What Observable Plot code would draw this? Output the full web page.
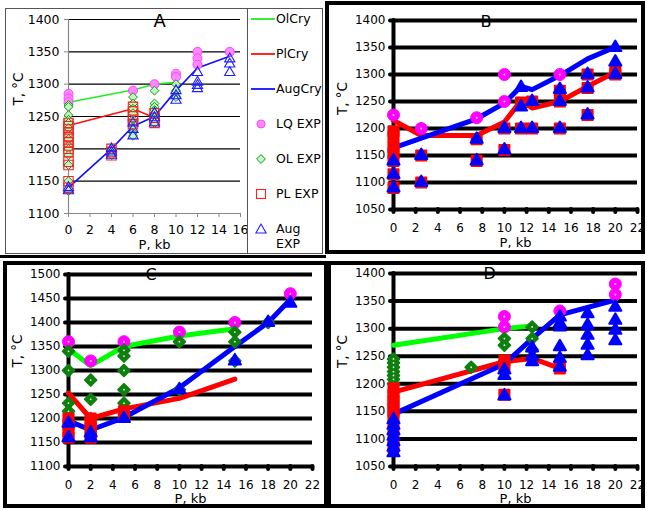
<!DOCTYPE html>
<html><head><meta charset="utf-8">
<script src="https://cdn.jsdelivr.net/npm/d3@7"></script>
<script src="https://cdn.jsdelivr.net/npm/@observablehq/plot@0.6"></script>
<style>
body{margin:0;background:#fff;}
#root{position:relative;width:647px;height:510px;overflow:hidden;font-family:"DejaVu Sans",sans-serif;background:#fff;}
.panel{position:absolute;}
.panel svg{display:block;}
#overlay{position:absolute;left:0;top:0;pointer-events:none;}
</style></head><body><div id="root"></div>
<script>
// ---------- tick labels ----------
const aXTicks = [0,2,4,6,8,10,12,14,16];
const aYTicks = [1100,1150,1200,1250,1300,1350,1400];
const bcdXTicks = [0,2,4,6,8,10,12,14,16,18,20,22];
const bYTicks = [1050,1100,1150,1200,1250,1300,1350,1400];
const cYTicks = [1100,1150,1200,1250,1300,1350,1400,1450,1500];
const dYTicks = [1050,1100,1150,1200,1250,1300,1350,1400];
const legendLabels = ["OlCry","PlCry","AugCry","LQ EXP","OL EXP","PL EXP","Aug EXP"];
const panelTitles = ["A","B","C","D"];

// ---------- panel A ----------
const aOlCryP = [0,6,8,10];
const aOlCryT = [1272,1291,1300,1303];
const aPlCryP = [0,6,8];
const aPlCryT = [1236,1262,1248];
const aAugCryP = [0,4,6,8,10,12,15];
const aAugCryT = [1140,1200,1235,1250,1290,1325,1343];
const aLqP = [0,0,0,6,8,10,10,12,12,12,15];
const aLqT = [1285,1278,1272,1290,1300,1316,1311,1350,1340,1330,1350];
const aOlP = [0,0,0,0,0,0,0,0,0,0,0,0,0,0, 4,4,4, 6,6,6,6,6,6,6,6, 8,8,8,8,8,8,8,8, 10,10,10];
const aOlT = [1268,1265,1252,1245,1240,1232,1222,1215,1205,1200,1190,1175,1150,1135, 1200,1195,1190, 1280,1270,1262,1255,1245,1235,1225,1220, 1290,1270,1265,1260,1255,1250,1245,1240, 1300,1290,1280];
const aPlP = [0,0,0,0,0,0,0,0,0,0,0,0,0, 4,4,4, 6,6,6,6,6, 8,8,8];
const aPlT = [1240,1235,1230,1225,1218,1210,1205,1200,1195,1180,1175,1150,1140, 1200,1195,1190, 1265,1258,1250,1245,1238, 1255,1248,1240];
const aAugP = [0,0, 4,4,4, 6,6,6, 8,8,8, 10,10,10, 12,12,12,12, 15,15,15];
const aAugT = [1140,1135, 1200,1195,1190, 1240,1230,1220, 1255,1248,1240, 1290,1282,1275, 1318,1303,1298,1293, 1339,1331,1318];

// ---------- panel B ----------
const bLqP = [0,2.5,7.5,10,10,15];
const bLqT = [1225,1200,1220,1300,1250,1300];
const bPlCryP = [0,2.5,7.5,10,11.5,12.5,15,17.5,20];
const bPlCryT = [1215,1187,1187,1212,1252,1238,1250,1278,1304];
const bAugCryP = [0,7.5,10,11.5,12.5,15,17.5,20];
const bAugCryT = [1164,1218,1247,1278,1272,1298,1329,1351];
const bPlP = [0,0,0,0,0,0,0, 2.5,2.5, 7.5,7.5, 10,10, 11.5,11.5, 12.5,12.5, 15,15,15, 17.5,17.5,17.5, 20,20];
const bPlT = [1195,1185,1165,1155,1140,1115,1090, 1150,1100, 1180,1140, 1200,1160, 1248,1200, 1250,1200, 1270,1250,1200, 1300,1275,1225, 1305,1300];
const bAugP = [0,0,0, 2.5,2.5, 7.5,7.5, 10,10, 11.5,11.5,11.5, 12.5,12.5, 15,15,15, 17.5,17.5,17.5, 20,20,20];
const bAugT = [1140,1115,1090, 1150,1100, 1180,1140, 1200,1160, 1276,1240,1200, 1250,1200, 1272,1250,1200, 1300,1275,1225, 1350,1323,1300];

// ---------- panel C ----------
const cOlCryP = [0,2,5,10,15];
const cOlCryT = [1345,1310,1350,1372,1387];
const cPlCryP = [0,2,5,10,15];
const cPlCryT = [1253,1200,1220,1242,1282];
const cAugCryP = [0,2,5,10,15,18,20];
const cAugCryT = [1195,1176,1202,1264,1350,1400,1448];
const cLqP = [0,2,5,10,15,20];
const cLqT = [1360,1320,1360,1380,1400,1460];
const cOlP = [0,0,0,0, 2,2,2,2, 5,5,5,5,5, 10,10, 15,15,15, 18];
const cOlT = [1340,1300,1232,1215, 1280,1240,1200,1180, 1342,1330,1300,1260,1232, 1360,1260, 1380,1360,1320, 1400];
const cPlP = [0,0,0,0, 2,2,2,2,2, 5,5];
const cPlT = [1200,1188,1172,1160, 1200,1190,1180,1170,1160, 1215,1205];
const cAugP = [0,0, 2,2, 5, 10, 15, 18, 20];
const cAugT = [1190,1160, 1170,1160, 1200, 1260, 1320, 1400, 1440];

// ---------- panel D ----------
const dOlCryP = [0,10,12.5];
const dOlCryT = [1270,1300,1305];
const dPlCryP = [0,10,12.5,15];
const dPlCryT = [1185,1240,1246,1228];
const dAugCryP = [0,10,12.5,15,20];
const dAugCryT = [1145,1236,1282,1325,1352];
const dLqP = [10,10,15,20,20];
const dLqT = [1322,1303,1332,1381,1362];
const dOlP = [0,0,0,0,0,0,0, 7, 10,10,10, 12.5,12.5,12.5];
const dOlT = [1245,1238,1230,1222,1215,1208,1200, 1230, 1282,1270,1240, 1303,1282,1262];
const dPlP = [0,0,0,0,0,0,0,0,0, 10,10,10, 15];
const dPlT = [1192,1180,1170,1160,1150,1140,1120,1100,1085, 1242,1232,1180, 1228];
const dAugP = [0,0,0,0,0,0,0, 10,10,10, 12.5,12.5,12.5, 15,15,15,15,15,15, 17.5,17.5,17.5,17.5,17.5, 20,20,20,20];
const dAugT = [1135,1125,1115,1105,1095,1085,1075, 1225,1215,1178, 1265,1250,1240, 1321,1310,1303,1267,1246,1230, 1327,1306,1288,1270,1251, 1339,1315,1297,1278];

// ---------- helpers ----------
const FONT = '"DejaVu Sans", Verdana, sans-serif';
const fmt = d => String(d);
const pts = (P, T) => P.map((p, i) => ({P: p, T: T[i]}));
const root = document.getElementById("root");
function place(node, left, top) {
  const d = document.createElement("div");
  d.className = "panel";
  d.style.left = left + "px";
  d.style.top = top + "px";
  d.appendChild(node);
  root.appendChild(d);
}

// ---------- Panel A (light style) ----------
const plotA = Plot.plot({
  width: 241, height: 243,
  marginLeft: 62, marginRight: 7, marginTop: 10, marginBottom: 39,
  x: {domain: [0, 16]},
  y: {domain: [1100, 1400]},
  style: {fontFamily: FONT, fontSize: "12px", background: "white", color: "black"},
  marks: [
    Plot.ruleY(aYTicks.slice(1), {stroke: "#000", strokeWidth: 1.2}),
    Plot.ruleY([1100], {stroke: "#888", strokeWidth: 1.2}),
    Plot.ruleX([0], {stroke: "#888", strokeWidth: 1.2}),
    Plot.axisY({ticks: aYTicks, tickFormat: fmt, tickSize: 4, tickPadding: 5, stroke: "#888", label: null, fontSize: 12.5}),
    Plot.axisX({ticks: aXTicks, tickFormat: fmt, tickSize: 4, tickPadding: 8, stroke: "#888", label: null, fontSize: 12.5}),
    Plot.line(pts(aOlCryP, aOlCryT), {x: "P", y: "T", stroke: "#22ee22", strokeWidth: 1.6}),
    Plot.line(pts(aPlCryP, aPlCryT), {x: "P", y: "T", stroke: "#ff1010", strokeWidth: 1.6}),
    Plot.line(pts(aAugCryP, aAugCryT), {x: "P", y: "T", stroke: "#1010ff", strokeWidth: 1.6}),
    Plot.dot(pts(aLqP, aLqT), {x: "P", y: "T", r: 4.5, fill: "#ff88ff", stroke: "#ff44ff", strokeWidth: 1}),
    Plot.dot(pts(aOlP, aOlT), {x: "P", y: "T", symbol: "diamond2", r: 4, fill: "#c4f4c4", stroke: "#119911", strokeWidth: 1}),
    Plot.dot(pts(aPlP, aPlT), {x: "P", y: "T", symbol: "square", r: 5.3, fill: "none", stroke: "#ff2020", strokeWidth: 1.1}),
    Plot.dot(pts(aAugP, aAugT), {x: "P", y: "T", symbol: "triangle", r: 3.8, fill: "none", stroke: "#2020ff", strokeWidth: 1.1}),
    Plot.text([panelTitles[0]], {text: d => d, frameAnchor: "top-left", dx: 85, dy: 2, lineAnchor: "middle", fontSize: 18}),
    Plot.text(["P, kb"], {text: d => d, frameAnchor: "bottom", lineAnchor: "top", dy: 26, fontSize: 13}),
    Plot.text(["T, °C"], {text: d => d, frameAnchor: "left", rotate: -90, dx: -50, dy: -11, fontSize: 13.5})
  ]
});
place(plotA, 6, 9);

// ---------- heavy panels (B, C, D) ----------
function heavyPanel(cfg) {
  const marks = [
    Plot.ruleY(cfg.yTicks, {stroke: "#000", strokeWidth: 4}),
    Plot.ruleX([0], {stroke: "#000", strokeWidth: 4, strokeLinecap: "round"}),
    Plot.axisY({ticks: cfg.yTicks, tickFormat: fmt, tickSize: 3, tickPadding: 5, strokeWidth: 4, strokeLinecap: "round", label: null, fontSize: 12}),
    Plot.axisX({ticks: bcdXTicks, tickFormat: fmt, tickSize: 3, tickPadding: 11, strokeWidth: 4, strokeLinecap: "round", label: null, fontSize: 12})
  ];
  for (const [data, color] of cfg.lines) {
    marks.push(Plot.line(data, {x: "P", y: "T", stroke: color, strokeWidth: 5, strokeLinejoin: "round", strokeLinecap: "round"}));
  }
  if (cfg.lq) {
    marks.push(Plot.dot(cfg.lq, {x: "P", y: "T", r: 6, fill: "#ff00ff", stroke: "#ff00ff", strokeWidth: 1}));
    marks.push(Plot.dot(cfg.lq, {x: "P", y: "T", r: 1, fill: "#ffd0ff"}));
  }
  if (cfg.ol) {
    marks.push(Plot.dot(cfg.ol, {x: "P", y: "T", symbol: "diamond2", r: 5.2, fill: "#0f7f0f", stroke: "#0f7f0f", strokeWidth: 2, strokeLinejoin: "round"}));
    marks.push(Plot.dot(cfg.ol, {x: "P", y: "T", r: 0.9, fill: "#d0ffd0"}));
  }
  if (cfg.pl) {
    marks.push(Plot.dot(cfg.pl, {x: "P", y: "T", symbol: "square", r: 5.8, fill: "#ff0000", stroke: "#ff0000", strokeWidth: 1.8, strokeLinejoin: "round"}));
  }
  if (cfg.aug) {
    marks.push(Plot.dot(cfg.aug, {x: "P", y: "T", symbol: "triangle", r: 4.5, fill: "#0000ff", stroke: "#0000ff", strokeWidth: 2, strokeLinejoin: "round"}));
  }
  marks.push(Plot.text([cfg.title], {text: d => d, frameAnchor: "top-left", dx: cfg.titleDx, dy: cfg.titleDy, lineAnchor: "middle", fontSize: 16}));
  marks.push(Plot.text(["P, kb"], {text: d => d, frameAnchor: "bottom", lineAnchor: "top", dy: cfg.xLabelDy, fontSize: 13}));
  marks.push(Plot.text(["T, °C"], {text: d => d, frameAnchor: "left", rotate: -90, dx: -51, dy: cfg.yLabelDy, fontSize: 13.5}));
  return Plot.plot({
    width: cfg.width, height: cfg.height,
    marginLeft: cfg.ml, marginRight: cfg.mr, marginTop: cfg.mt, marginBottom: cfg.mb,
    x: {domain: [0, 22]},
    y: {domain: cfg.yDomain},
    style: {fontFamily: FONT, fontSize: "12px", background: "white", color: "black", overflow: "visible"},
    marks
  });
}

const plotB = heavyPanel({
  width: 312, height: 247, ml: 64, mr: 4, mt: 15, mb: 43,
  yDomain: [1050, 1400], yTicks: bYTicks,
  title: panelTitles[1], titleDx: 87, titleDy: 1, xLabelDy: 28, yLabelDy: 0,
  lines: [[pts(bPlCryP, bPlCryT), "#ff0000"], [pts(bAugCryP, bAugCryT), "#0000ff"]],
  lq: pts(bLqP, bLqT), pl: pts(bPlP, bPlT), aug: pts(bAugP, bAugT)
});
place(plotB, 329, 5);

const plotC = heavyPanel({
  width: 317, height: 241, ml: 61, mr: 12, mt: 9, mb: 40,
  yDomain: [1100, 1500], yTicks: cYTicks,
  title: panelTitles[2], titleDx: 77, titleDy: 0, xLabelDy: 27, yLabelDy: -3,
  lines: [[pts(cOlCryP, cOlCryT), "#00ff00"], [pts(cPlCryP, cPlCryT), "#ff0000"], [pts(cAugCryP, cAugCryT), "#0000ff"]],
  lq: pts(cLqP, cLqT), ol: pts(cOlP, cOlT), pl: pts(cPlP, cPlT), aug: pts(cAugP, cAugT)
});
place(plotC, 7, 265);

const plotD = heavyPanel({
  width: 310, height: 241, ml: 62, mr: 4, mt: 8, mb: 40,
  yDomain: [1050, 1400], yTicks: dYTicks,
  title: panelTitles[3], titleDx: 90, titleDy: 0, xLabelDy: 27, yLabelDy: -2,
  lines: [[pts(dOlCryP, dOlCryT), "#00ff00"], [pts(dPlCryP, dPlCryT), "#ff0000"], [pts(dAugCryP, dAugCryT), "#0000ff"]],
  lq: pts(dLqP, dLqT), ol: pts(dOlP, dOlT), pl: pts(dPlP, dPlT), aug: pts(dAugP, dAugT)
});
place(plotD, 331, 265);

// ---------- overlay: frames and legend of panel A ----------
const ov = d3.select(root).append("svg").attr("id", "overlay").attr("width", 647).attr("height", 510);
ov.append("rect").attr("x", 5.5).attr("y", 8.5).attr("width", 317).attr("height", 245).attr("fill", "none").attr("stroke", "#555").attr("stroke-width", 1);
ov.append("line").attr("x1", 247.5).attr("x2", 247.5).attr("y1", 8.5).attr("y2", 253.5).attr("stroke", "#555").attr("stroke-width", 1);
ov.append("line").attr("x1", 0).attr("x2", 326).attr("y1", 256.5).attr("y2", 256.5).attr("stroke", "#000").attr("stroke-width", 3);
ov.append("rect").attr("x", 327).attr("y", 3).attr("width", 316).attr("height", 249).attr("fill", "none").attr("stroke", "#000").attr("stroke-width", 4);
ov.append("rect").attr("x", 5).attr("y", 263).attr("width", 321).attr("height", 243).attr("fill", "none").attr("stroke", "#000").attr("stroke-width", 4);
ov.append("rect").attr("x", 329).attr("y", 263).attr("width", 314).attr("height", 243).attr("fill", "none").attr("stroke", "#000").attr("stroke-width", 4);

const lg = ov.append("g").attr("font-family", FONT).attr("font-size", 12.5).attr("fill", "#000");
const lineColors = ["#22ee22", "#ff1010", "#1010ff"];
const lineYs = [19, 54, 89];
lineColors.forEach((c, i) => {
  lg.append("line").attr("x1", 251).attr("x2", 275).attr("y1", lineYs[i]).attr("y2", lineYs[i]).attr("stroke", c).attr("stroke-width", 1.8);
  lg.append("text").attr("x", 276).attr("y", lineYs[i]).attr("dy", "0.35em").text(legendLabels[i]);
});
lg.append("circle").attr("cx", 261).attr("cy", 124).attr("r", 4).attr("fill", "#ff88ff").attr("stroke", "#ff44ff");
lg.append("text").attr("x", 276).attr("y", 124).attr("dy", "0.35em").text(legendLabels[3]);
lg.append("path").attr("transform", "translate(261,159)").attr("d", d3.symbol(d3.symbolDiamond2, Math.PI * 16)()).attr("fill", "#c4f4c4").attr("stroke", "#119911");
lg.append("text").attr("x", 276).attr("y", 159).attr("dy", "0.35em").text(legendLabels[4]);
lg.append("rect").attr("x", 256.5).attr("y", 189.5).attr("width", 9).attr("height", 9).attr("fill", "white").attr("stroke", "#ff2020").attr("stroke-width", 1.1);
lg.append("text").attr("x", 276).attr("y", 194).attr("dy", "0.35em").text(legendLabels[5]);
lg.append("path").attr("transform", "translate(261,230)").attr("d", d3.symbol(d3.symbolTriangle, Math.PI * 3.8 * 3.8)()).attr("fill", "white").attr("stroke", "#2020ff").attr("stroke-width", 1.1);
const augParts = legendLabels[6].split(" ");
lg.append("text").attr("x", 276).attr("y", 228.5).attr("dy", "0.35em").text(augParts[0]);
lg.append("text").attr("x", 276).attr("y", 243.5).attr("dy", "0.35em").text(augParts[1]);
</script></body></html>
